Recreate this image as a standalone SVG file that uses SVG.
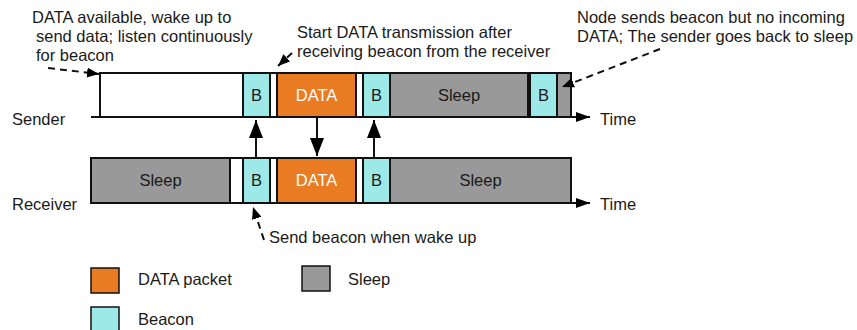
<svg xmlns="http://www.w3.org/2000/svg" width="857" height="330" viewBox="0 0 857 330">
<defs>
<marker id="big" markerUnits="userSpaceOnUse" markerWidth="18" markerHeight="14" viewBox="0 0 18 14" refX="18" refY="7" orient="auto">
<path d="M0,0 L18,7 L0,14 Z" fill="#000"/>
</marker>
<marker id="ax" markerUnits="userSpaceOnUse" markerWidth="14" markerHeight="10" viewBox="0 0 14 10" refX="14" refY="5" orient="auto">
<path d="M0,0 L14,5 L0,10 Z" fill="#000"/>
</marker>
<marker id="sm" markerUnits="userSpaceOnUse" markerWidth="12" markerHeight="10" viewBox="0 0 12 10" refX="12" refY="5" orient="auto">
<path d="M0,0 L12,5 L0,10 Z" fill="#000"/>
</marker>
</defs>
<style>
text{font-family:"Liberation Sans",Arial,Helvetica,sans-serif;font-size:16.5px;fill:#1a1a1a}
.c{text-anchor:middle}
.w{fill:#fff}
.blk{stroke:#111;stroke-width:2}
.white{fill:#fff}
.data{fill:#E97B22}
.bea{fill:#9DE9E7}
.slp{fill:#999}
.lg{stroke:#111;stroke-width:1.5}
.dash{stroke:#111;stroke-width:2;stroke-dasharray:7,5;fill:none}
.sol{stroke:#111;stroke-width:2;fill:none}
</style>

<g id="connectors">
<line class="sol" x1="91" y1="117" x2="590" y2="117" marker-end="url(#ax)"/>
<line class="sol" x1="91" y1="203" x2="590" y2="203" marker-end="url(#ax)"/>
</g>

<g id="sender">
<rect class="blk white" x="100" y="73" width="471" height="44"/>
<rect class="blk bea" x="243" y="73" width="27" height="44"/>
<rect class="blk data" x="277" y="73" width="79" height="44"/>
<rect class="blk bea" x="363" y="73" width="27" height="44"/>
<rect class="blk slp" x="390" y="73" width="138" height="44"/>
<rect class="blk bea" x="530" y="73" width="27" height="44"/>
<rect class="blk slp" x="557" y="73" width="14" height="44"/>
<text class="c" x="256.5" y="101">B</text>
<text class="c w" x="316.5" y="101">DATA</text>
<text class="c" x="376.5" y="101">B</text>
<text class="c" x="459" y="101">Sleep</text>
<text class="c" x="543.5" y="101">B</text>
</g>

<g id="receiver">
<rect class="blk white" x="91" y="158" width="480" height="45"/>
<rect class="blk slp" x="91" y="158" width="139" height="45"/>
<rect class="blk bea" x="243" y="158" width="27" height="45"/>
<rect class="blk data" x="277" y="158" width="79" height="45"/>
<rect class="blk bea" x="363" y="158" width="27" height="45"/>
<rect class="blk slp" x="390" y="158" width="181" height="45"/>
<text class="c" x="160.5" y="186">Sleep</text>
<text class="c" x="256.5" y="186">B</text>
<text class="c w" x="316.5" y="186">DATA</text>
<text class="c" x="376.5" y="186">B</text>
<text class="c" x="480.5" y="186">Sleep</text>
</g>

<g id="arrows">
<line class="sol" x1="256" y1="158" x2="256" y2="120" marker-end="url(#big)"/>
<line class="sol" x1="317" y1="117" x2="317" y2="156" marker-end="url(#big)"/>
<line class="sol" x1="374" y1="158" x2="374" y2="120" marker-end="url(#big)"/>
<line class="dash" x1="48" y1="68" x2="99" y2="74" marker-end="url(#sm)"/>
<line class="dash" x1="292" y1="53" x2="278" y2="66" marker-end="url(#sm)"/>
<line class="dash" x1="660" y1="49" x2="562" y2="87" marker-end="url(#sm)"/>
<line class="dash" x1="264" y1="240" x2="253" y2="207" marker-end="url(#sm)"/>
</g>

<g id="labels">
<text x="32" y="23">DATA available, wake up to</text>
<text x="36" y="42">send data; listen continuously</text>
<text x="36" y="61">for beacon</text>
<text x="297" y="38">Start DATA transmission after</text>
<text x="297" y="57">receiving beacon from the receiver</text>
<text x="577" y="23">Node sends beacon but no incoming</text>
<text x="577" y="42">DATA; The sender goes back to sleep</text>
<text x="12" y="125">Sender</text>
<text x="12" y="210">Receiver</text>
<text x="600" y="125">Time</text>
<text x="600" y="210">Time</text>
<text x="269" y="243">Send beacon when wake up</text>
</g>

<g id="legend">
<rect class="lg data" x="91" y="268" width="28" height="25"/>
<text x="138" y="285">DATA packet</text>
<rect class="lg slp" x="302" y="266" width="28" height="25"/>
<text x="348" y="285">Sleep</text>
<rect class="lg bea" x="91" y="307" width="28" height="25"/>
<text x="138" y="325">Beacon</text>
</g>
</svg>
